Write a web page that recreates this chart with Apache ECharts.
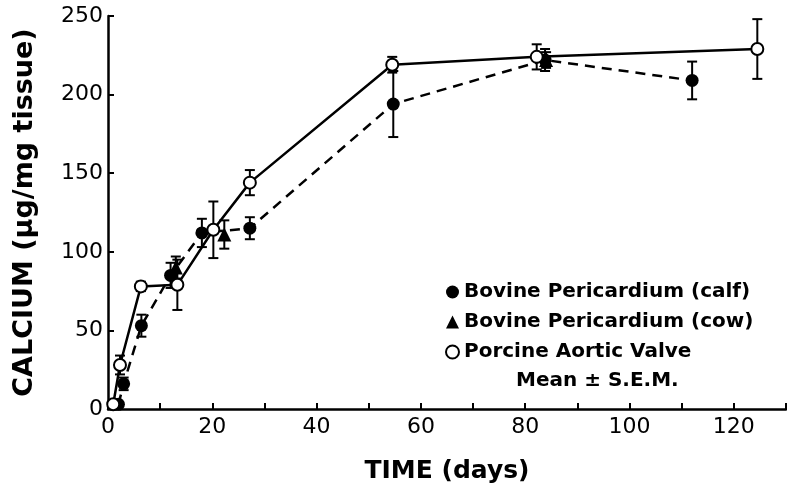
<!DOCTYPE html>
<html>
<head>
<meta charset="utf-8">
<script src="https://cdn.jsdelivr.net/npm/echarts@6/dist/echarts.min.js"></script>
<style>
  html, body { margin: 0; padding: 0; background: #fff; }
  #chart { width: 787px; height: 489px; }
</style>
</head>
<body>
<div id="chart"></div>
<script>
// days / mean calcium / SEM
var calfDays = [2, 3, 6.4, 12, 18, 27.2, 54.7, 83.8, 112];
var calfMean = [3, 16, 53, 85, 112, 115, 194, 222, 209];
var calfSem = [0, 4, 7, 8, 9, 7, 21, 7, 12];

var cowDays = [13, 22.3, 84];
var cowMean = [90, 111, 222];
var cowSem = [7, 9, 5];

var pigDays = [1, 2.3, 6.3, 13.3, 20.2, 27.2, 54.5, 82.2, 124.5];
var pigMean = [3, 28, 78, 79, 114, 144, 219, 224, 229];
var pigSem = [0, 6, 3, 16, 18, 8, 5, 8, 19];

var xTicks = [0, 20, 40, 60, 80, 100, 120];

var font = 'DejaVu Sans';

function pairs(x, y) {
  return x.map(function (d, i) { return [d, y[i]]; });
}
function triples(x, y, e) {
  return x.map(function (d, i) { return [d, y[i], e[i]]; });
}

function errorBars(params, api) {
  var d = api.value(0), m = api.value(1), e = api.value(2);
  if (!e) return;
  var top = api.coord([d, m + e]);
  var bot = api.coord([d, m - e]);
  var w = 5;
  var style = {stroke: '#000', lineWidth: 2};
  return {
    type: 'group',
    children: [
      {type: 'line', shape: {x1: top[0], y1: top[1], x2: bot[0], y2: bot[1]}, style: style},
      {type: 'line', shape: {x1: top[0] - w, y1: top[1], x2: top[0] + w, y2: top[1]}, style: style},
      {type: 'line', shape: {x1: bot[0] - w, y1: bot[1], x2: bot[0] + w, y2: bot[1]}, style: style}
    ]
  };
}

var chart = echarts.init(document.getElementById('chart'));
chart.setOption({
  animation: false,
  backgroundColor: '#fff',
  grid: {left: 108, right: 1, top: 16, bottom: 80, containLabel: false, outerBoundsMode: 'none'},
  legend: {
    orient: 'vertical',
    left: 440,
    top: 277,
    itemWidth: 13,
    itemHeight: 13,
    itemGap: 10,
    textStyle: {fontFamily: font, fontWeight: 'bold', fontSize: 20, color: '#000'},
    data: [
      {name: 'Bovine Pericardium (calf)', icon: 'circle', itemStyle: {color: '#000', opacity: 1}},
      {name: 'Bovine Pericardium (cow)', icon: 'triangle', itemStyle: {color: '#000', opacity: 1}},
      {name: 'Porcine Aortic Valve', icon: 'circle', itemStyle: {color: '#fff', borderColor: '#000', borderWidth: 2}}
    ]
  },
  graphic: [{
    type: 'text',
    left: 516,
    top: 371,
    style: {text: 'Mean ± S.E.M.', font: 'bold 20px "DejaVu Sans"', fill: '#000'}
  }],
  xAxis: {
    type: 'value',
    min: 0,
    max: 130,
    interval: 10,
    name: 'TIME (days)',
    nameLocation: 'middle',
    nameGap: 50,
    nameTextStyle: {fontFamily: font, fontWeight: 'bold', fontSize: 25, color: '#000'},
    axisLine: {lineStyle: {color: '#000', width: 2.5}},
    axisTick: {inside: true, length: 6, lineStyle: {color: '#000', width: 2}},
    splitLine: {show: false},
    axisLabel: {
      margin: 7,
      fontFamily: font, fontSize: 22, color: '#000',
      formatter: function (v) { return xTicks.indexOf(v) >= 0 ? String(v) : ''; }
    }
  },
  yAxis: {
    type: 'value',
    min: 0,
    max: 250,
    interval: 50,
    name: 'CALCIUM (μg/mg tissue)',
    nameLocation: 'middle',
    nameRotate: 90,
    nameGap: 70,
    nameTextStyle: {fontFamily: font, fontWeight: 'bold', fontSize: 27, color: '#000'},
    axisLine: {show: true, lineStyle: {color: '#000', width: 2.5}},
    axisTick: {show: true, inside: true, length: 6, lineStyle: {color: '#000', width: 2}},
    splitLine: {show: false},
    axisLabel: {margin: 5, fontFamily: font, fontSize: 22, color: '#000'}
  },
  series: [
    {
      name: 'errors',
      type: 'custom',
      renderItem: errorBars,
      z: 1,
      clip: true,
      data: triples(calfDays, calfMean, calfSem)
        .concat(triples(cowDays, cowMean, cowSem))
        .concat(triples(pigDays, pigMean, pigSem))
    },
    {
      name: 'Bovine Pericardium (calf)',
      type: 'line',
      z: 3,
      data: pairs(calfDays, calfMean),
      symbol: 'circle',
      symbolSize: 13,
      itemStyle: {color: '#000'},
      lineStyle: {color: '#000', width: 2.5, type: [10, 7]}
    },
    {
      name: 'Bovine Pericardium (cow)',
      type: 'scatter',
      z: 3,
      data: pairs(cowDays, cowMean),
      symbol: 'triangle',
      symbolSize: 14,
      itemStyle: {color: '#000', opacity: 1}
    },
    {
      name: 'Porcine Aortic Valve',
      type: 'line',
      z: 4,
      data: pairs(pigDays, pigMean),
      symbol: 'circle',
      symbolSize: 12,
      itemStyle: {color: '#fff', borderColor: '#000', borderWidth: 2},
      lineStyle: {color: '#000', width: 2.5}
    }
  ]
});
</script>
</body>
</html>
